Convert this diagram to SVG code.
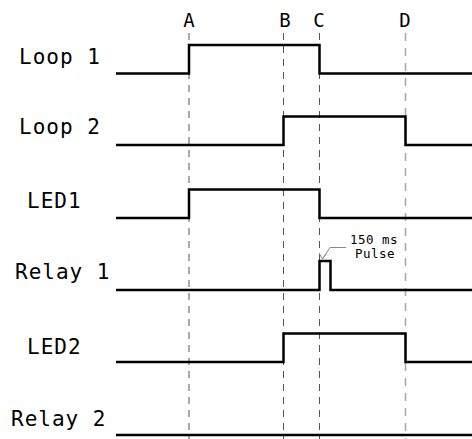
<svg xmlns="http://www.w3.org/2000/svg" width="472" height="439" viewBox="0 0 472 439">
<style>
.lbl{font-family:"DejaVu Sans Mono","Liberation Mono",monospace;font-size:21px;fill:#000;letter-spacing:1px}
.mk{font-family:"DejaVu Sans Mono","Liberation Mono",monospace;font-size:19px;fill:#000;text-anchor:middle}
.note{font-family:"DejaVu Sans Mono","Liberation Mono",monospace;font-size:12.5px;fill:#000;text-anchor:middle;letter-spacing:0.5px}
.sig{fill:none;stroke:#000;stroke-width:2.5}
.grid{stroke:#555;stroke-width:1;stroke-dasharray:7 6}
.gridL{stroke:#aaa;stroke-width:1.6;stroke-dasharray:8 7}
.lead{fill:none;stroke:#888;stroke-width:1}
</style>
<rect width="472" height="439" fill="#fff"/>
<g id="markers">
<line class="grid" x1="189" y1="33" x2="189" y2="439"/>
<line class="grid" x1="283.5" y1="33" x2="283.5" y2="439"/>
<line class="grid" x1="319.5" y1="33" x2="319.5" y2="439"/>
<line class="gridL" x1="405.5" y1="33" x2="405.5" y2="439"/>
<text class="mk" x="189" y="27">A</text>
<text class="mk" x="285" y="27">B</text>
<text class="mk" x="319" y="27">C</text>
<text class="mk" x="405" y="27">D</text>
</g>
<g id="loop1">
<text class="lbl" x="19" y="64">Loop 1</text>
<path class="sig" d="M116 73.5 H189 V45 H319.5 V73.5 H472"/>
</g>
<g id="loop2">
<text class="lbl" x="19" y="134">Loop 2</text>
<path class="sig" d="M116 145 H283.5 V116.5 H405.5 V145 H472"/>
</g>
<g id="led1">
<text class="lbl" x="27" y="208">LED1</text>
<path class="sig" d="M116 218 H189 V189.5 H319.5 V218 H472"/>
</g>
<g id="relay1">
<text class="lbl" x="15" y="279">Relay 1</text>
<path class="sig" d="M116 290 H319.5 V261 H330.5 V290 H472"/>
</g>
<g id="led2">
<text class="lbl" x="27" y="354">LED2</text>
<path class="sig" d="M116 362 H283.5 V333.5 H405.5 V362 H472"/>
</g>
<g id="relay2">
<text class="lbl" x="11" y="426">Relay 2</text>
<path class="sig" d="M116 435 H472"/>
</g>
<g id="connectors">
<path class="lead" d="M346 247.5 H330 L322.5 259 M319 253 L322.5 259 L326.5 253.5"/>
</g>
<g id="pulse-note">
<text class="note" x="374" y="244">150 ms</text>
<text class="note" x="375" y="258">Pulse</text>
</g>
</svg>
